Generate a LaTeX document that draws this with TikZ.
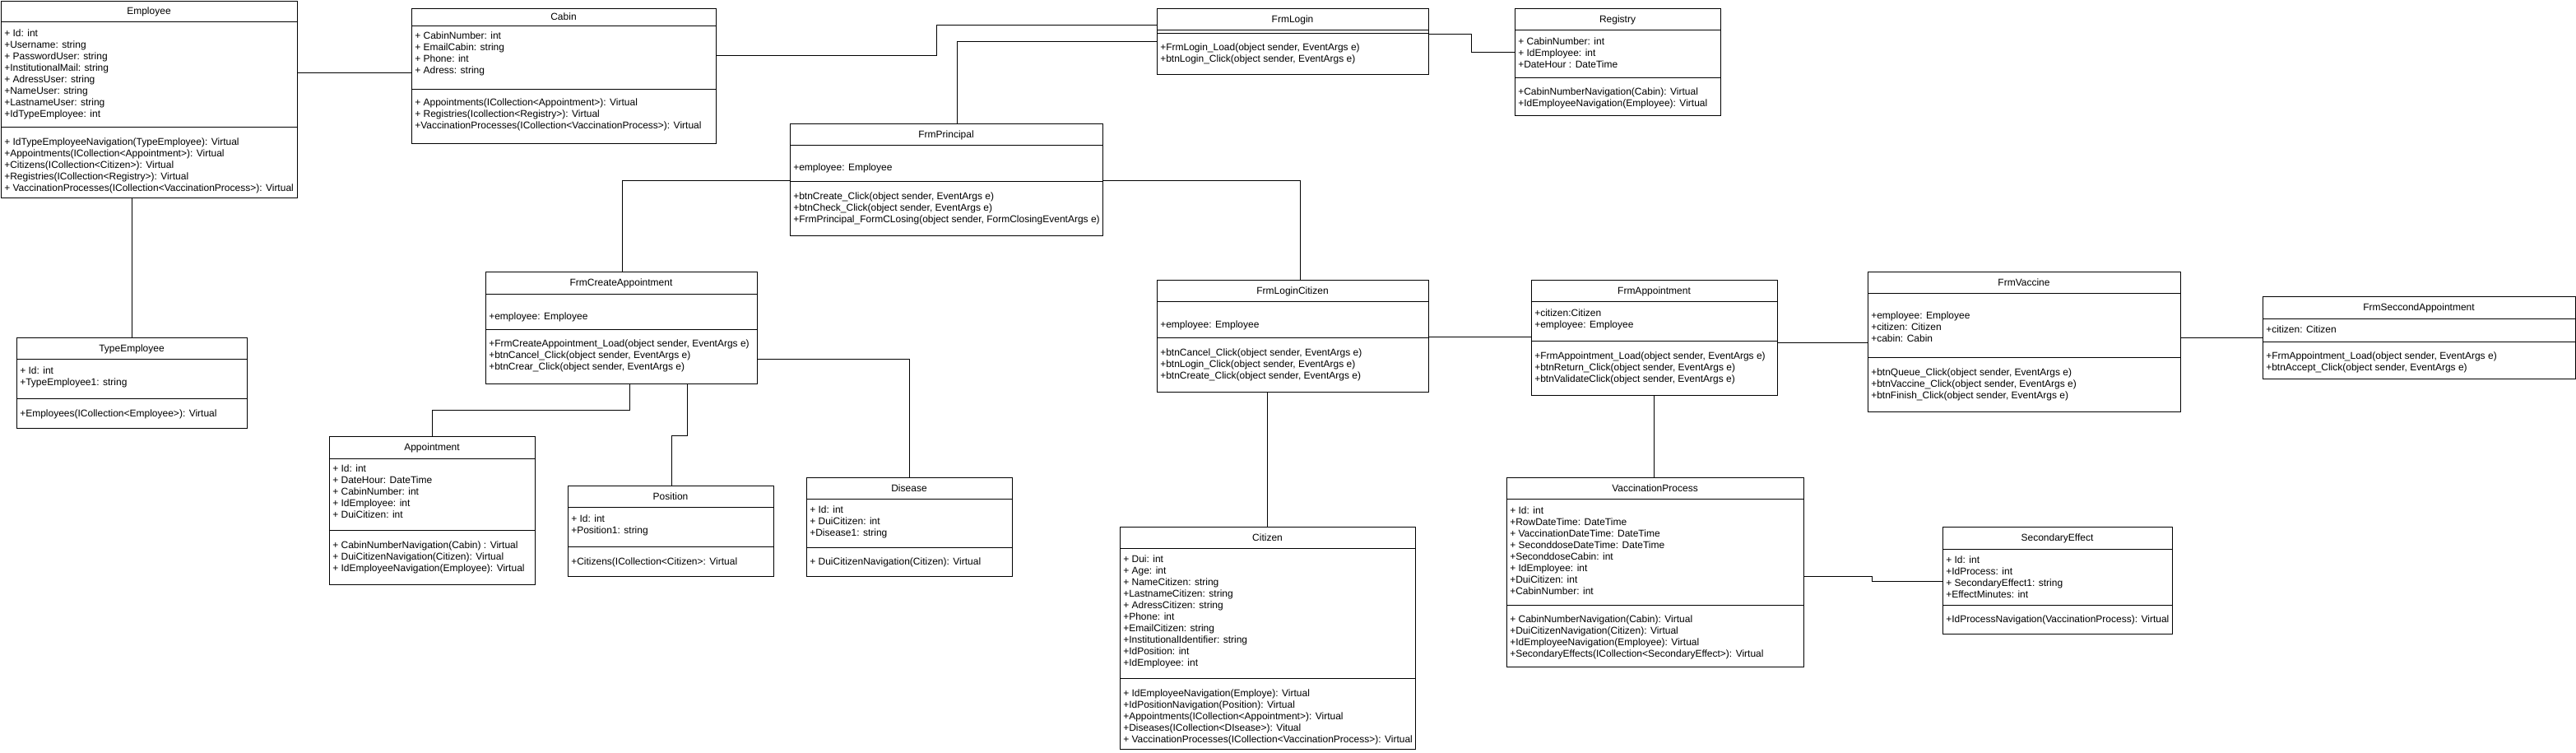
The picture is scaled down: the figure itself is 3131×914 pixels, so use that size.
\documentclass[tikz,border=0pt]{standalone}
\usepackage{fontspec}
\setmainfont{Liberation Sans}
\usetikzlibrary{fit,calc}
\tikzset{
  box/.style={draw=black, line width=0.75pt, inner sep=0pt, outer sep=0pt},
  ttl/.style={anchor=base, inner sep=0pt, font=\fontsize{9}{10.5}\selectfont},
  txt/.style={anchor=base west, inner sep=0pt, font=\fontsize{9}{10.5}\selectfont},
  conn/.style={draw=black, line width=0.75pt}
}
% name, x0, y0, x1, y1, header line y, title
\newcommand\umlbox[7]{%
  \coordinate (#1-nw) at (#2,#3);
  \coordinate (#1-se) at (#4,#5);
  \node[box, fit=(#1-nw)(#1-se)] (#1) {};
  \draw[conn] (#1.west |- 0,#6) -- (#1.east |- 0,#6);
  \node[ttl] (#1-t) at ({(#2+#4)/2},{(#3+#6)/2+4}) {#7};
}
\newcommand\umlsep[2]{\draw[conn] (#1.west |- 0,#2) -- (#1.east |- 0,#2);}
% name, x, first line centre y, list
\newcommand\umlmembers[4]{%
  \foreach \t [count=\i] in {#4} {
    \node[txt] (#1-\i) at (#2,{#3+4+14*(\i-1)}) {\t};
  }
}
\begin{document}
\begin{tikzpicture}[x=0.75pt,y=-0.75pt]
\useasboundingbox (0,0) rectangle (3131,914);
\fill[white] (0,0) rectangle (3131,914);

% Employee
\umlbox{emp}{1}{1}{361}{240}{26}{Employee}
\umlsep{emp}{154}
\umlmembers{empa}{5}{40}{{+ Id: int},{+Username: string},{+ PasswordUser: string},{+InstitutionalMail: string},{+ AdressUser: string},{+NameUser: string},{+LastnameUser: string},{+IdTypeEmployee: int}}
\umlmembers{empm}{5}{172}{{+ IdTypeEmployeeNavigation(TypeEmployee): Virtual},{+Appointments(ICollection<Appointment>): Virtual},{+Citizens(ICollection<Citizen>): Virtual},{+Registries(ICollection<Registry>): Virtual},{+ VaccinationProcesses(ICollection<VaccinationProcess>): Virtual}}

% Cabin
\umlbox{cab}{500}{10}{870}{174}{31}{Cabin}
\umlsep{cab}{108}
\umlmembers{caba}{504}{43}{{+ CabinNumber: int},{+ EmailCabin: string},{+ Phone: int},{+ Adress: string}}
\umlmembers{cabm}{504}{124}{{+ Appointments(ICollection<Appointment>): Virtual},{+ Registries(Icollection<Registry>): Virtual},{+VaccinationProcesses(ICollection<VaccinationProcess>): Virtual}}

% FrmLogin
\umlbox{login}{1406}{10}{1736}{90}{36}{FrmLogin}
\umlsep{login}{40}
\umlmembers{loginm}{1410}{57}{{+FrmLogin\_Load(object sender, EventArgs e)},{+btnLogin\_Click(object sender, EventArgs e)}}

% Registry
\umlbox{reg}{1841}{10}{2091}{140}{36}{Registry}
\umlsep{reg}{94}
\umlmembers{rega}{1845}{50}{{+ CabinNumber: int},{+ IdEmployee: int},{+DateHour : DateTime}}
\umlmembers{regm}{1845}{111}{{+CabinNumberNavigation(Cabin): Virtual},{+IdEmployeeNavigation(Employee): Virtual}}

% FrmPrincipal
\umlbox{princ}{960}{150}{1340}{286}{176}{FrmPrincipal}
\umlsep{princ}{220}
\umlmembers{princa}{964}{203}{{+employee: Employee}}
\umlmembers{princm}{964}{238}{{+btnCreate\_Click(object sender, EventArgs e)},{+btnCheck\_Click(object sender, EventArgs e)},{+FrmPrincipal\_FormCLosing(object sender, FormClosingEventArgs e)}}

% TypeEmployee
\umlbox{type}{20}{410}{300}{520}{436}{TypeEmployee}
\umlsep{type}{484}
\umlmembers{typea}{24}{450}{{+ Id: int},{+TypeEmployee1: string}}
\umlmembers{typem}{24}{502}{{+Employees(ICollection<Employee>): Virtual}}

% FrmCreateAppointment
\umlbox{fca}{590}{330}{920}{466}{357}{FrmCreateAppointment}
\umlsep{fca}{400}
\umlmembers{fcaa}{594}{384}{{+employee: Employee}}
\umlmembers{fcam}{594}{417}{{+FrmCreateAppointment\_Load(object sender, EventArgs e)},{+btnCancel\_Click(object sender, EventArgs e)},{+btnCrear\_Click(object sender, EventArgs e)}}

% Appointment
\umlbox{appt}{400}{530}{650}{710}{557}{Appointment}
\umlsep{appt}{644}
\umlmembers{appta}{404}{569}{{+ Id: int},{+ DateHour: DateTime},{+ CabinNumber: int},{+ IdEmployee: int},{+ DuiCitizen: int}}
\umlmembers{apptm}{404}{662}{{+ CabinNumberNavigation(Cabin) : Virtual},{+ DuiCitizenNavigation(Citizen): Virtual},{+ IdEmployeeNavigation(Employee): Virtual}}

% Position
\umlbox{pos}{690}{590}{940}{700}{616}{Position}
\umlsep{pos}{664}
\umlmembers{posa}{694}{630}{{+ Id: int},{+Position1: string}}
\umlmembers{posm}{694}{682}{{+Citizens(ICollection<Citizen>: Virtual}}

% Disease
\umlbox{dis}{980}{580}{1230}{700}{606}{Disease}
\umlsep{dis}{665}
\umlmembers{disa}{984}{619}{{+ Id: int},{+ DuiCitizen: int},{+Disease1: string}}
\umlmembers{dism}{984}{682}{{+ DuiCitizenNavigation(Citizen): Virtual}}

% FrmLoginCitizen
\umlbox{flc}{1406}{340}{1736}{476}{366}{FrmLoginCitizen}
\umlsep{flc}{410}
\umlmembers{flca}{1410}{394}{{+employee: Employee}}
\umlmembers{flcm}{1410}{428}{{+btnCancel\_Click(object sender, EventArgs e)},{+btnLogin\_Click(object sender, EventArgs e)},{+btnCreate\_Click(object sender, EventArgs e)}}

% Citizen
\umlbox{cit}{1361}{640}{1720}{910}{666}{Citizen}
\umlsep{cit}{824}
\umlmembers{cita}{1365}{679}{{+ Dui: int},{+ Age: int},{+ NameCitizen: string},{+LastnameCitizen: string},{+ AdressCitizen: string},{+Phone: int},{+EmailCitizen: string},{+InstitutionalIdentifier: string},{+IdPosition: int},{+IdEmployee: int}}
\umlmembers{citm}{1365}{842}{{+ IdEmployeeNavigation(Employe): Virtual},{+IdPositionNavigation(Position): Virtual},{+Appointments(ICollection<Appointment>): Virtual},{+Diseases(ICollection<DIsease>): Vitual},{+ VaccinationProcesses(ICollection<VaccinationProcess>): Virtual}}

% FrmAppointment
\umlbox{fapp}{1861}{340}{2160}{480}{366}{FrmAppointment}
\umlsep{fapp}{414}
\umlmembers{fappa}{1865}{380}{{+citizen:Citizen},{+employee: Employee}}
\umlmembers{fappm}{1865}{432}{{+FrmAppointment\_Load(object sender, EventArgs e)},{+btnReturn\_Click(object sender, EventArgs e)},{+btnValidateClick(object sender, EventArgs e)}}

% FrmVaccine
\umlbox{fvac}{2270}{330}{2650}{500}{356}{FrmVaccine}
\umlsep{fvac}{434}
\umlmembers{fvaca}{2274}{383}{{+employee: Employee},{+citizen: Citizen},{+cabin: Cabin}}
\umlmembers{fvacm}{2274}{452}{{+btnQueue\_Click(object sender, EventArgs e)},{+btnVaccine\_Click(object sender, EventArgs e)},{+btnFinish\_Click(object sender, EventArgs e)}}

% FrmSeccondAppointment
\umlbox{fsec}{2750}{360}{3130}{460}{387}{FrmSeccondAppointment}
\umlsep{fsec}{415}
\umlmembers{fseca}{2754}{400}{{+citizen: Citizen}}
\umlmembers{fsecm}{2754}{432}{{+FrmAppointment\_Load(object sender, EventArgs e)},{+btnAccept\_Click(object sender, EventArgs e)}}

% VaccinationProcess
\umlbox{vp}{1831}{580}{2192}{810}{606}{VaccinationProcess}
\umlsep{vp}{735}
\umlmembers{vpa}{1835}{620}{{+ Id: int},{+RowDateTime: DateTime},{+ VaccinationDateTime: DateTime},{+ SeconddoseDateTime: DateTime},{+SeconddoseCabin: int},{+ IdEmployee: int},{+DuiCitizen: int},{+CabinNumber: int}}
\umlmembers{vpm}{1835}{752}{{+ CabinNumberNavigation(Cabin): Virtual},{+DuiCitizenNavigation(Citizen): Virtual},{+IdEmployeeNavigation(Employee): Virtual},{+SecondaryEffects(ICollection<SecondaryEffect>): Virtual}}

% SecondaryEffect
\umlbox{se}{2361}{640}{2640}{770}{667}{SecondaryEffect}
\umlsep{se}{735}
\umlmembers{sea}{2365}{680}{{+ Id: int},{+IdProcess: int},{+ SecondaryEffect1: string},{+EffectMinutes: int}}
\umlmembers{sem}{2365}{752}{{+IdProcessNavigation(VaccinationProcess): Virtual}}

% connectors
\draw[conn] (emp.east |- 0,88) -- (cab.west |- 0,88);
\draw[conn] (emp.south -| 160,0) -- (type.north -| 160,0);
\draw[conn] (cab.east |- 0,67) -| (1138,30) -- (login.west |- 0,30);
\draw[conn] (princ.north -| 1163,0) |- (login.west |- 0,50);
\draw[conn] (login.east |- 0,41) -| (1788,63) -- (reg.west |- 0,63);
\draw[conn] (princ.west |- 0,219) -| (fca.north -| 756,0);
\draw[conn] (princ.east |- 0,219) -| (flc.north -| 1580,0);
\draw[conn] (fca.south -| 765,0) |- (525,498) -- (appt.north -| 525,0);
\draw[conn] (fca.south -| 835,0) |- (816,529) -- (pos.north -| 816,0);
\draw[conn] (fca.east |- 0,436) -| (dis.north -| 1105,0);
\draw[conn] (flc.south -| 1540,0) -- (cit.north -| 1540,0);
\draw[conn] (flc.east |- 0,409) -- (fapp.west |- 0,409);
\draw[conn] (fapp.south -| 2010,0) -- (vp.north -| 2010,0);
\draw[conn] (fapp.east |- 0,416) -- (fvac.west |- 0,416);
\draw[conn] (fvac.east |- 0,410) -- (fsec.west |- 0,410);
\draw[conn] (vp.east |- 0,700) -| (2275,706) -- (se.west |- 0,706);
\end{tikzpicture}
\end{document}
